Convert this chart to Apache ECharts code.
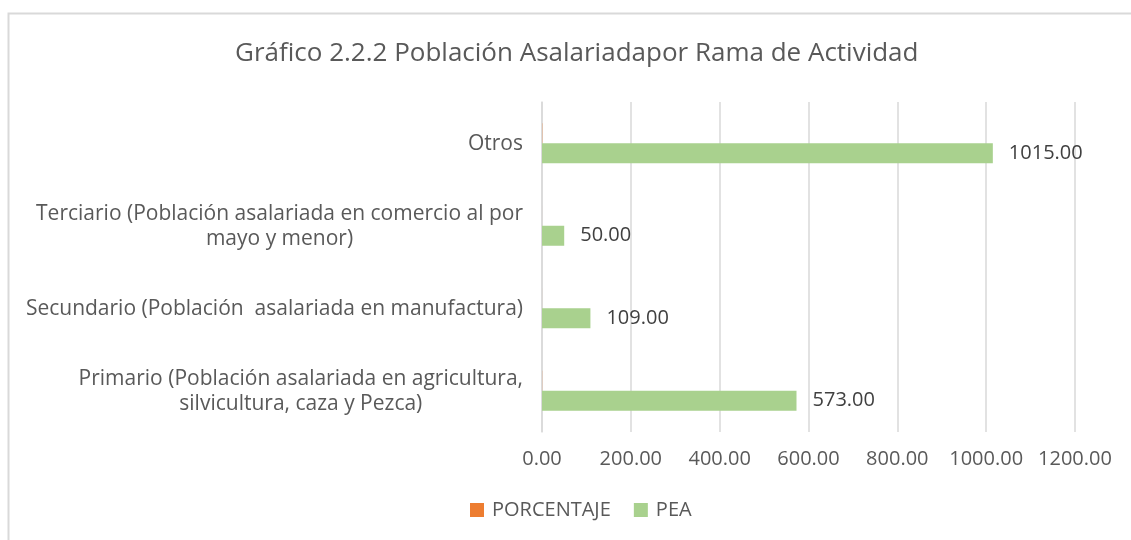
<!DOCTYPE html>
<html>
<head>
<meta charset="utf-8">
<script src="https://cdn.jsdelivr.net/npm/echarts@6/dist/echarts.min.js"></script>
<style>
  html, body { margin: 0; padding: 0; background: #fff; }
  #chart { width: 1131px; height: 540px; }
</style>
</head>
<body>
<div id="chart"></div>
<script>
// categorias de abajo hacia arriba (eje Y de ECharts empieza abajo)
const categorias = [
  'Primario (Población asalariada en agricultura,\nsilvicultura, caza y Pezca)',
  'Secundario (Población  asalariada en manufactura)',
  'Terciario (Población asalariada en comercio al por\nmayo y menor)',
  'Otros'
];
const porcentaje = [0.33, 0.06, 0.03, 0.58];
const pea = [573, 109, 50, 1015];
const ticksX = [0, 200, 400, 600, 800, 1000, 1200];

const fuente = 'Open Sans';

const option = {
  backgroundColor: '#fff',
  textStyle: { fontFamily: fuente },
  title: {
    text: 'Gráfico 2.2.2 Población Asalariadapor Rama de Actividad',
    left: 230,
    top: 36,
    textStyle: { fontFamily: fuente, fontSize: 26, fontWeight: 'normal', color: '#595959' }
  },
  legend: {
    bottom: 15,
    left: 465,
    icon: 'rect',
    itemWidth: 14,
    itemHeight: 14,
    itemGap: 23,
    textStyle: { fontFamily: fuente, fontSize: 20, color: '#595959', padding: [0, 0, 0, 3] },
    data: ['PORCENTAJE', 'PEA']
  },
  grid: { left: 542, right: 56, top: 102, bottom: 108, containLabel: false },
  xAxis: {
    type: 'value',
    min: ticksX[0],
    max: ticksX[ticksX.length - 1],
    interval: 200,
    axisLine: { show: false },
    axisTick: { show: false },
    splitLine: { lineStyle: { color: '#d9d9d9', width: 1.5 } },
    axisLabel: {
      margin: 17,
      fontFamily: fuente,
      fontSize: 20,
      color: '#595959',
      formatter: v => v.toFixed(2)
    }
  },
  yAxis: {
    type: 'category',
    data: categorias,
    axisLine: { lineStyle: { color: '#d9d9d9', width: 1.5 } },
    axisTick: { show: false },
    axisLabel: {
      margin: 19,
      color: '#595959',
      formatter: v => '{c|' + v.split('\n').join('}\n{c|') + '}',
      rich: {
        c: { align: 'center', fontFamily: fuente, fontSize: 21, color: '#595959', lineHeight: 25, padding: [2, 0, 0, 0] }
      }
    }
  },
  series: [
    {
      name: 'PORCENTAJE',
      type: 'bar',
      data: porcentaje,
      barWidth: 20,
      barGap: '0%',
      itemStyle: { color: '#ED7D31' }
    },
    {
      name: 'PEA',
      type: 'bar',
      data: pea,
      barWidth: 20,
      barGap: '0%',
      itemStyle: { color: '#A9D18E' },
      label: {
        show: true,
        position: 'right',
        distance: 16,
        fontFamily: fuente,
        fontSize: 20,
        color: '#404040',
        formatter: p => p.value.toFixed(2)
      }
    }
  ],
  graphic: [
    {
      type: 'rect',
      shape: { x: 8.5, y: 13.5, width: 1300, height: 700 },
      style: { fill: null, stroke: '#d9d9d9', lineWidth: 2 },
      silent: true,
      z: -1
    }
  ]
};

const chart = echarts.init(document.getElementById('chart'));
chart.setOption(option);
</script>
</body>
</html>
